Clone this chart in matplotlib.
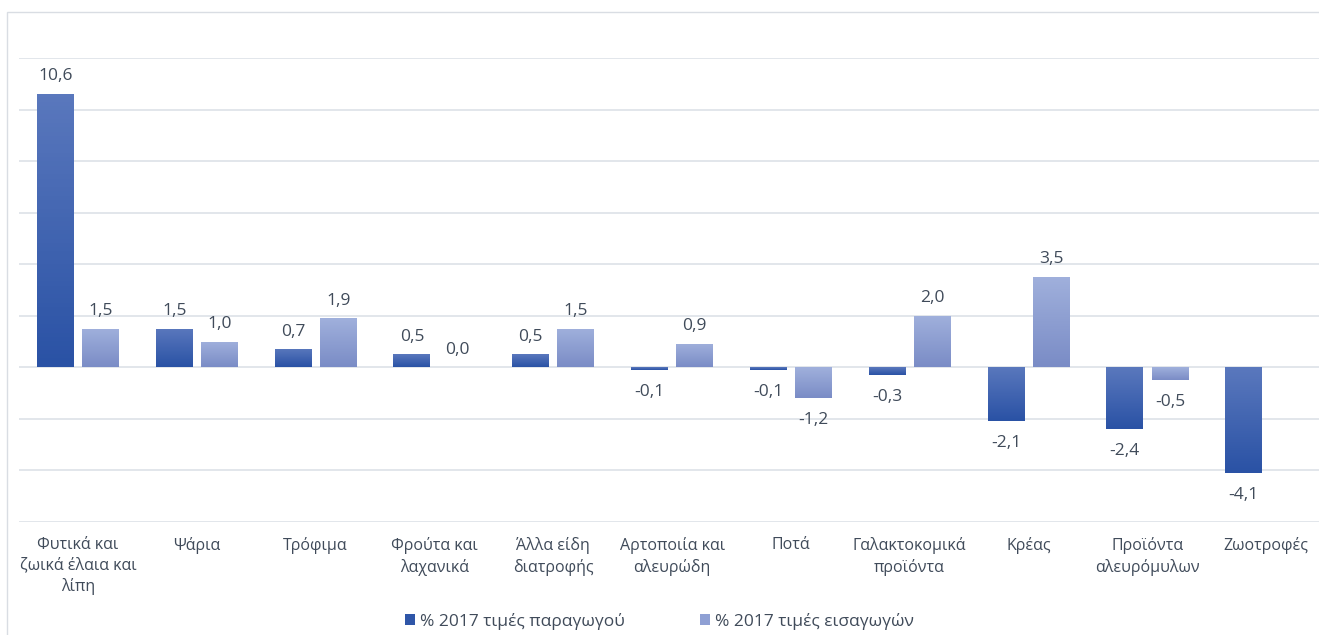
import numpy as np
import matplotlib
matplotlib.use("Agg")
import matplotlib.pyplot as plt
from matplotlib.patches import Patch, Rectangle

categories = [
    "Φυτικά και\nζωικά έλαια και\nλίπη",
    "Ψάρια",
    "Τρόφιμα",
    "Φρούτα και\nλαχανικά",
    "Άλλα είδη\nδιατροφής",
    "Αρτοποιία και\nαλευρώδη",
    "Ποτά",
    "Γαλακτοκομικά\nπροϊόντα",
    "Κρέας",
    "Προϊόντα\nαλευρόμυλων",
    "Ζωοτροφές",
]
producer = [10.6, 1.5, 0.7, 0.5, 0.5, -0.1, -0.1, -0.3, -2.1, -2.4, -4.1]
imports = [1.5, 1.0, 1.9, 0.0, 1.5, 0.9, -1.2, 2.0, 3.5, -0.5, None]
series_names = ["% 2017 τιμές παραγωγού", "% 2017 τιμές εισαγωγών"]

text_color = "#404b5a"
plt.rcParams["font.family"] = ["Open Sans", "DejaVu Sans"]

fig = plt.figure(figsize=(13.19, 6.35), dpi=100)
ax = fig.add_axes([18.6 / 1319, 1 - 522 / 635, 1307 / 1319, 464 / 635])

# outer chart border
fig.patches.append(Rectangle((7 / 1319, -0.02), 1.0, 1 - 12 / 635 + 0.02,
                             transform=fig.transFigure, fill=False,
                             edgecolor="#d9dde3", linewidth=1.0, zorder=0))

x = np.arange(len(categories))
width = 0.31
offset = 0.19


def gradient_bars(xs, vals, top_col, bot_col):
    top = np.array(matplotlib.colors.to_rgb(top_col))
    bot = np.array(matplotlib.colors.to_rgb(bot_col))
    t = np.linspace(0, 1, 64)[:, None]
    grad = (top * (1 - t) + bot * t)[:, None, :]
    for xi, v in zip(xs, vals):
        if v is None:
            continue
        b = ax.bar(xi, v, width=width, color="none", edgecolor="none", zorder=3)[0]
        y0, y1 = min(0, v), max(0, v)
        im = ax.imshow(grad, extent=(xi - width / 2, xi + width / 2, y0, y1),
                       aspect="auto", origin="upper", zorder=3)
        im.set_clip_path(b)
        lab = f"{v:.1f}".replace(".", ",")
        if v >= 0:
            ax.annotate(lab, (xi, v), xytext=(0, 7), textcoords="offset points",
                        ha="center", va="bottom", fontsize=12.5, color=text_color)
        else:
            ax.annotate(lab, (xi, v), xytext=(0, -10), textcoords="offset points",
                        ha="center", va="top", fontsize=12.5, color=text_color)


gradient_bars(x - offset, producer, "#5a78bd", "#2a52a5")
gradient_bars(x + offset, imports, "#a0b0dc", "#7a8cc6")

ax.set_xlim(-0.5, len(categories) - 0.5)
ax.set_ylim(-6, 12)
ax.set_yticks(np.arange(-6, 13, 2))
ax.yaxis.grid(True, color="#dde1e8", linewidth=1.2, zorder=0)
ax.set_axisbelow(True)
ax.tick_params(axis="y", left=False, labelleft=False)
ax.set_xticks(x)
ax.set_xticklabels(categories, fontsize=11.5, color=text_color, linespacing=1.35)
ax.tick_params(axis="x", length=0, pad=11)
for s in ax.spines.values():
    s.set_visible(False)

handles = [Patch(facecolor="#2f56a8", edgecolor="none"),
           Patch(facecolor="#8fa0d4", edgecolor="none")]
leg = fig.legend(handles, series_names, loc="center", bbox_to_anchor=(0.5, 1 - 621 / 635),
                 ncol=2, frameon=False, fontsize=12.5, handlelength=0.6, handleheight=0.6,
                 handletextpad=0.3, columnspacing=4.3)
for t in leg.get_texts():
    t.set_color(text_color)

fig.savefig("out.png", dpi=100)
